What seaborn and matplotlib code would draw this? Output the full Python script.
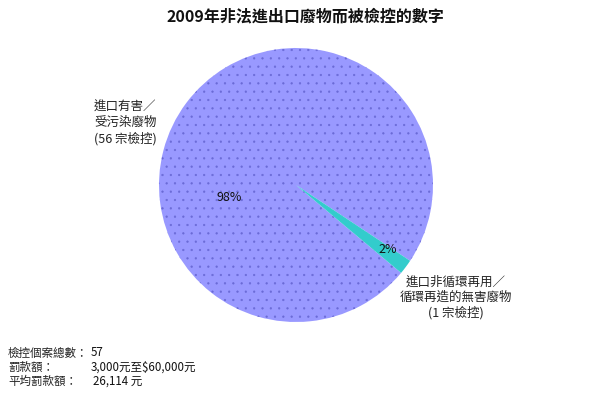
#------------------------2009 waste prosecution pie------------------------
import numpy as np
import pandas as pd
import matplotlib
matplotlib.use("Agg")
import matplotlib.pyplot as plt
import seaborn as sns

# data
categories = ["進口有害／\n受污染廢物\n(56 宗檢控)", "進口非循環再用／\n循環再造的無害廢物\n(1 宗檢控)"]
cases = [56, 1]
pct_labels = ["98%", "2%"]
summary_keys = ["檢控個案總數：", "罰款額：", "平均罰款額："]
summary_vals = ["57", "3,000元至$60,000元", "26,114 元"]
title = "2009年非法進出口廢物而被檢控的數字"

# settings
sns.set_theme(style="white")
plt.rcParams["font.family"] = ["Noto Sans CJK TC", "DejaVu Sans"]
plt.rcParams["hatch.linewidth"] = 0.4
colors = ["#9999FF", "#33CCCC"]
W, H = 604, 405

fig = plt.figure(figsize=(W / 100, H / 100), dpi=100)
fig.patch.set_facecolor("white")

# pie axes: center (296,185), radius 137 px
cx, cy, r = 296, 185, 137
ax = fig.add_axes([(cx - r) / W, 1 - (cy + r) / H, 2 * r / W, 2 * r / H])
wedges, _ = ax.pie(cases, colors=colors, startangle=-33.6, counterclock=True,
                   radius=1, wedgeprops=dict(linewidth=0))
wedges[0].set_hatch("..")
wedges[0].set_edgecolor("#6a6ad6")
ax.set_xlim(-1, 1)
ax.set_ylim(-1, 1)
ax.set_aspect("equal")
ax.axis("off")

# percentage labels
ax.text(-0.49, -0.09, pct_labels[0], ha="center", va="center", fontsize=9, color="#111111")
ax.text(0.67, -0.47, pct_labels[1], ha="center", va="center", fontsize=9, color="#111111")

def ftext(x, y, s, **kw):
    fig.text(x / W, 1 - y / H, s, **kw)

ftext(305, 16, title, ha="center", va="center", fontsize=11.5, fontweight="bold", color="#111111")
ftext(94, 123, categories[0], ha="left", va="center", fontsize=9, color="#222222", linespacing=1.25)
ftext(456, 298, categories[1], ha="center", va="center", fontsize=9, color="#222222", linespacing=1.2)

# summary block
val_x = [91, 91, 93]
for i, (k, v) in enumerate(zip(summary_keys, summary_vals)):
    y = 353 + i * 14
    ftext(8, y, k, ha="left", va="center", fontsize=8.3, color="#222222")
    ftext(val_x[i], y, v, ha="left", va="center", fontsize=8.3, color="#111111")

fig.savefig("out.png", dpi=100)
